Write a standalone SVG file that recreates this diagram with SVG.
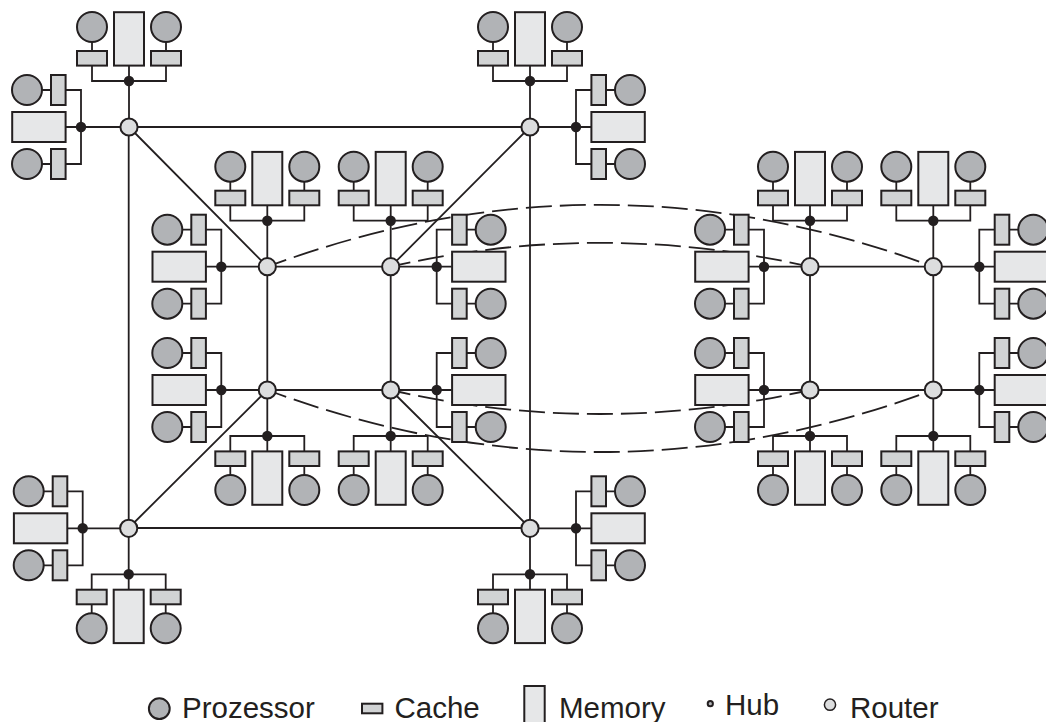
<svg xmlns="http://www.w3.org/2000/svg" width="1046" height="722" viewBox="0 0 1046 722">
<style>
.w{fill:none;stroke:#231f20;stroke-width:1.8}
.d{fill:none;stroke:#231f20;stroke-width:1.8;stroke-dasharray:26 8;stroke-dashoffset:6}
.p{fill:#b1b3b6;stroke:#231f20;stroke-width:2}
.c{fill:#d1d3d4;stroke:#231f20;stroke-width:2}
.m{fill:#e6e7e8;stroke:#231f20;stroke-width:2}
.h{fill:#231f20}
.r{fill:#dcddde;stroke:#231f20;stroke-width:2}
.t{font-family:"Liberation Sans",Arial,sans-serif;font-size:29.5px;fill:#231f20}
</style>
<defs>
<g id="top"><circle class="p" cx="-37" cy="-100" r="15"/><circle class="p" cx="37" cy="-100" r="15"/><rect class="c" x="-52" y="-76" width="30" height="14.6"/><rect class="c" x="22" y="-76" width="30" height="14.6"/><rect class="m" x="-15" y="-114.8" width="30" height="53.4"/><circle class="h" cx="0" cy="-46" r="5.2"/></g>
<g id="bottom"><circle class="p" cx="-37" cy="100" r="15"/><circle class="p" cx="37" cy="100" r="15"/><rect class="c" x="-52" y="61.4" width="30" height="14.6"/><rect class="c" x="22" y="61.4" width="30" height="14.6"/><rect class="m" x="-15" y="61.4" width="30" height="53.4"/><circle class="h" cx="0" cy="46" r="5.2"/></g>
<g id="left"><circle class="p" cx="-100" cy="-37" r="15"/><circle class="p" cx="-100" cy="37" r="15"/><rect class="c" x="-76" y="-52" width="14.6" height="30"/><rect class="c" x="-76" y="22" width="14.6" height="30"/><rect class="m" x="-114.8" y="-15" width="53.4" height="30"/><circle class="h" cx="-46" cy="0" r="5.2"/></g>
<g id="right"><circle class="p" cx="100" cy="-37" r="15"/><circle class="p" cx="100" cy="37" r="15"/><rect class="c" x="61.4" y="-52" width="14.6" height="30"/><rect class="c" x="61.4" y="22" width="14.6" height="30"/><rect class="m" x="61.4" y="-15" width="53.4" height="30"/><circle class="h" cx="46" cy="0" r="5.2"/></g>
<path id="wt" d="M0 0v-61m-37-39v54h74v-54"/>
<path id="wb" d="M0 0v61m-37 39v-54h74v54"/>
<path id="wl" d="M0 0h-61m-39-37h54v74h-54"/>
<path id="wr" d="M0 0h61m39-37h-54v74h54"/>
</defs>
<g id="connectors">
<path class="w" d="M129 127H530V528H128.7V127M129 127L267.3 266.7M530 127L390.7 266.7M128.7 528L267.3 390M530 528L390.7 390"/>
<path class="w" d="M267.3 266.7H390.7V390H267.3ZM810 266.7H933.3V390H810Z"/>
<g class="w">
<use href="#wt" x="129" y="127"/><use href="#wl" x="127" y="127"/>
<use href="#wt" x="530" y="127"/><use href="#wr" x="530" y="127"/>
<use href="#wb" x="128.7" y="528.3"/><use href="#wl" x="128.7" y="528.3"/>
<use href="#wb" x="530" y="528.3"/><use href="#wr" x="530" y="528.3"/>
<use href="#wt" x="267.3" y="266.7"/><use href="#wl" x="267.3" y="266.7"/>
<use href="#wt" x="390.7" y="266.7"/><use href="#wr" x="390.7" y="266.7"/>
<use href="#wb" x="267.3" y="390"/><use href="#wl" x="267.3" y="390"/>
<use href="#wb" x="390.7" y="390"/><use href="#wr" x="390.7" y="390"/>
<use href="#wt" x="810" y="266.7"/><use href="#wl" x="810" y="266.7"/>
<use href="#wt" x="933.3" y="266.7"/><use href="#wr" x="933.3" y="266.7"/>
<use href="#wb" x="810" y="390"/><use href="#wl" x="810" y="390"/>
<use href="#wb" x="933.3" y="390"/><use href="#wr" x="933.3" y="390"/>
</g>
<path class="d" d="M267.3 266.7Q600 143 933.3 266.7"/>
<path class="d" d="M390.7 266.7Q600 219 810 266.7"/>
<path class="d" d="M267.3 390Q600 514 933.3 390"/>
<path class="d" d="M390.7 390Q600 438 810 390"/>
</g>
<g id="corner-tl"><use href="#top" x="129" y="127"/><use href="#left" x="127" y="127"/><circle class="r" cx="129" cy="127" r="8.6"/></g>
<g id="corner-tr"><use href="#top" x="530" y="127"/><use href="#right" x="530" y="127"/><circle class="r" cx="530" cy="127" r="8.6"/></g>
<g id="corner-bl"><use href="#bottom" x="128.7" y="528.3"/><use href="#left" x="128.7" y="528.3"/><circle class="r" cx="128.7" cy="528.3" r="8.6"/></g>
<g id="corner-br"><use href="#bottom" x="530" y="528.3"/><use href="#right" x="530" y="528.3"/><circle class="r" cx="530" cy="528.3" r="8.6"/></g>
<g id="inner-tl"><use href="#top" x="267.3" y="266.7"/><use href="#left" x="267.3" y="266.7"/><circle class="r" cx="267.3" cy="266.7" r="8.6"/></g>
<g id="inner-tr"><use href="#top" x="390.7" y="266.7"/><use href="#right" x="390.7" y="266.7"/><circle class="r" cx="390.7" cy="266.7" r="8.6"/></g>
<g id="inner-bl"><use href="#bottom" x="267.3" y="390"/><use href="#left" x="267.3" y="390"/><circle class="r" cx="267.3" cy="390" r="8.6"/></g>
<g id="inner-br"><use href="#bottom" x="390.7" y="390"/><use href="#right" x="390.7" y="390"/><circle class="r" cx="390.7" cy="390" r="8.6"/></g>
<g id="far-tl"><use href="#top" x="810" y="266.7"/><use href="#left" x="810" y="266.7"/><circle class="r" cx="810" cy="266.7" r="8.6"/></g>
<g id="far-tr"><use href="#top" x="933.3" y="266.7"/><use href="#right" x="933.3" y="266.7"/><circle class="r" cx="933.3" cy="266.7" r="8.6"/></g>
<g id="far-bl"><use href="#bottom" x="810" y="390"/><use href="#left" x="810" y="390"/><circle class="r" cx="810" cy="390" r="8.6"/></g>
<g id="far-br"><use href="#bottom" x="933.3" y="390"/><use href="#right" x="933.3" y="390"/><circle class="r" cx="933.3" cy="390" r="8.6"/></g>
<g id="legend">
<circle class="p" cx="159.3" cy="708.7" r="10.4"/><text class="t" x="182" y="717.7">Prozessor</text>
<rect class="c" x="362" y="703.7" width="20.4" height="9.6"/><text class="t" x="394.5" y="717.7">Cache</text>
<rect class="m" x="524.3" y="686" width="20.4" height="40"/><text class="t" x="559" y="717.7">Memory</text>
<circle class="p" cx="710.3" cy="703.7" r="2.6"/><text class="t" x="725" y="715.3">Hub</text>
<circle class="r" cx="830" cy="704.7" r="5.6" style="stroke-width:1.5"/><text class="t" x="850" y="717.7">Router</text>
</g>
</svg>
